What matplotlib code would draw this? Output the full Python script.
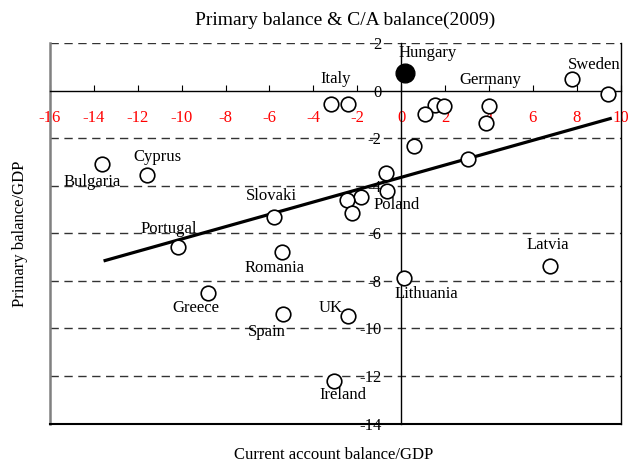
import matplotlib
matplotlib.use("Agg")
import matplotlib.pyplot as plt
import numpy as np

plt.rcParams['font.family'] = ['Liberation Serif', 'DejaVu Serif']

# Data (current account balance/GDP, primary balance/GDP)
hungary_x = [0.18]
hungary_y = [0.73]

ca_balance = [7.79, 9.43, -3.20, -2.41, 1.53, 1.94, 1.11, 3.99, 3.88, 0.59,
              3.05, -13.62, -11.57, -0.68, -0.64, -1.82, -2.47, -2.25, -5.80,
              -10.17, -5.44, 6.79, 0.13, -8.79, -5.38, -2.41, -3.07]
primary_balance = [0.48, -0.13, -0.56, -0.57, -0.60, -0.64, -0.98, -0.64, -1.36,
                   -2.32, -2.89, -3.10, -3.54, -3.45, -4.20, -4.46, -4.60, -5.16,
                   -5.30, -6.57, -6.78, -7.36, -7.88, -8.51, -9.39, -9.47, -12.21]

trend_x = [-13.56, 9.6]
trend_y = [-7.16, -1.15]

labels = ["Hungary", "Sweden", "Italy", "Germany", "Cyprus", "Bulgaria", "Slovaki",
          "Poland", "Portugal", "Romania", "Latvia", "Lithuania", "Greece", "Spain",
          "UK", "Ireland"]
label_x = [1.23, 8.79, -2.98, 4.07, -11.12, -14.1, -5.93, -0.2, -10.6, -5.75,
           6.7, 1.17, -9.35, -6.11, -3.22, -2.67]
label_y = [1.59, 1.09, 0.5, 0.45, -2.8, -3.83, -4.41, -4.81, -5.83, -7.47,
           -6.49, -8.55, -9.15, -10.14, -9.15, -12.8]

x_ticks = list(range(-16, 11, 2))
y_ticks = list(range(-14, 3, 2))

fig = plt.figure(figsize=(6.3, 4.63), dpi=100)
ax = fig.add_axes([0.0794, 0.0853, 0.985 - 0.0794, 0.9065 - 0.0853])
ax.set_xlim(-16, 10)
ax.set_ylim(-14, 2)

# dashed grid
for yv in [2, -2, -4, -6, -8, -10, -12]:
    ax.axhline(yv, color='#333333', lw=1.0, ls=(0, (6, 4)), zorder=1)

# box borders
ax.spines['top'].set_visible(False)
ax.spines['right'].set_color('black')
ax.spines['right'].set_linewidth(1.0)
ax.spines['left'].set_position(('data', 0))
ax.spines['bottom'].set_position(('data', 0))
ax.spines['left'].set_linewidth(1.0)
ax.spines['bottom'].set_linewidth(1.0)
ax.axvline(-16, color='#808080', lw=1.8, clip_on=False, zorder=2)
ax.axhline(-14, color='black', lw=1.5, clip_on=False, zorder=2)

ax.set_xticks(x_ticks)
ax.set_xticklabels([str(t) for t in x_ticks])
ax.set_yticks(y_ticks)
ax.set_yticklabels([str(t) for t in y_ticks])
ax.tick_params(axis='x', direction='in', length=4, width=0.8, pad=13.5,
               labelcolor='red', labelsize=12)
ax.tick_params(axis='y', length=0, pad=14, labelsize=12)
for lab in ax.get_xticklabels() + ax.get_yticklabels():
    lab.set_zorder(5)

# trend line
ax.plot(trend_x, trend_y, color='black', lw=2.3, zorder=3, solid_capstyle='butt')

# points
ax.plot(ca_balance, primary_balance, 'o', ms=10.5, mfc='white', mec='black',
        mew=1.2, zorder=4, clip_on=False)
ax.plot(hungary_x, hungary_y, 'o', ms=13.5, mfc='black', mec='black', zorder=4)

for t, lx, ly in zip(labels, label_x, label_y):
    ax.text(lx, ly, t, ha='center', va='center', fontsize=12, zorder=6)

fig.text(0.548, 0.955, "Primary balance & C/A balance(2009)", ha='center',
         va='center', fontsize=14)
fig.text(0.529, 0.017, "Current account balance/GDP", ha='center', va='center',
         fontsize=12)
fig.text(0.032, 0.496, "Primary balance/GDP", ha='center', va='center',
         rotation=90, fontsize=12)

fig.savefig("out.png", dpi=100)
